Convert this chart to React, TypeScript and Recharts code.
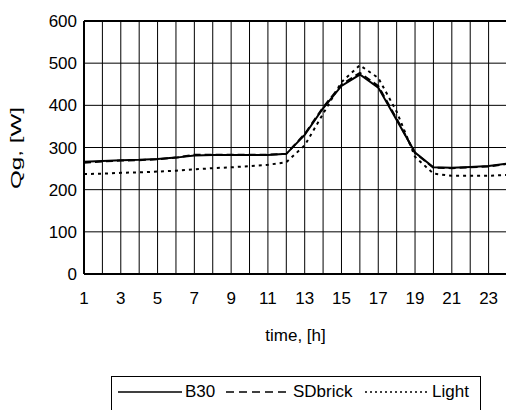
import { LineChart, Line, XAxis, YAxis, CartesianGrid, ReferenceLine } from 'recharts';

const HOURS = [1, 2, 3, 4, 5, 6, 7, 8, 9, 10, 11, 12, 13, 14, 15, 16, 17, 18, 19, 20, 21, 22, 23, 24];
const B30 = [266, 268, 270, 271, 273, 276, 281, 282, 282, 282, 282, 285, 330, 393, 446, 473, 442, 365, 288, 253, 252, 254, 256, 262];
const SDBRICK = [264, 267, 269, 270, 272, 276, 283, 283, 283, 283, 283, 285, 332, 395, 449, 477, 446, 368, 287, 252, 251, 253, 255, 261];
const LIGHT = [237, 238, 240, 241, 243, 245, 248, 251, 253, 256, 259, 265, 305, 380, 455, 495, 465, 385, 278, 238, 233, 233, 233, 235];

const X_TICKS = [1, 3, 5, 7, 9, 11, 13, 15, 17, 19, 21, 23];
const Y_TICKS = [0, 100, 200, 300, 400, 500, 600];
const H_GRID = [0, 50, 100, 150, 200, 250, 300, 350, 400, 450, 500, 550, 600];

const SERIES = [
  { key: 'b30', name: 'B30', dash: undefined as string | undefined, legendDash: undefined as string | undefined, left: 118 },
  { key: 'sdbrick', name: 'SDbrick', dash: '7 4', legendDash: '8 5', left: 226 },
  { key: 'light', name: 'Light', dash: '3 4', legendDash: '2 3', left: 365 },
];

const FONT = '"Liberation Sans", Arial, sans-serif';
const FS = 17;

// y label is drawn a bit stretched like the original export
function YLabel() {
  return (
    <text
      x={15}
      y={148}
      transform="rotate(-90 15 148)"
      textAnchor="middle"
      dominantBaseline="central"
      fontSize={15}
      fill="#000"
      textLength={82}
      lengthAdjust="spacingAndGlyphs"
    >
      Qg, [W]
    </text>
  );
}

function LegendBox() {
  return (
    <div
      style={{
        position: 'absolute',
        left: 111,
        top: 376,
        width: 368,
        height: 50,
        border: '1px solid #000',
        background: '#fff',
        fontFamily: FONT,
        fontSize: FS,
        color: '#000',
      }}
    >
      {SERIES.map((s) => (
        <div
          key={s.key}
          style={{ position: 'absolute', left: s.left - 112, top: 5, height: 20, display: 'flex', alignItems: 'center' }}
        >
          <svg width={64} height={10} style={{ marginRight: 3 }}>
            <line x1={0} y1={5} x2={64} y2={5} stroke="#000" strokeWidth={1.5} strokeDasharray={s.legendDash} />
          </svg>
          <span>{s.name}</span>
        </div>
      ))}
    </div>
  );
}

export default function App() {
  const data = HOURS.map((h, i) => ({ hour: h, b30: B30[i], sdbrick: SDBRICK[i], light: LIGHT[i] }));

  return (
    <div style={{ position: 'absolute', left: 0, top: 0, width: 506, height: 410, overflow: 'hidden', background: '#fff' }}>
      <LineChart
        width={507}
        height={410}
        data={data}
        margin={{ top: 21, right: 0, left: 0, bottom: 106 }}
        style={{ fontFamily: FONT }}
      >
        <CartesianGrid
          stroke="#000"
          strokeWidth={1}
          verticalValues={HOURS}
          horizontalValues={H_GRID}
        />
        <XAxis
          dataKey="hour"
          type="number"
          domain={[1, 24]}
          ticks={X_TICKS}
          interval={0}
          height={30}
          axisLine={{ stroke: '#000', strokeWidth: 2 }}
          tickLine={false}
          tickSize={0}
          tickMargin={18}
          tick={{ fill: '#000', fontSize: FS }}
          label={{ value: 'time, [h]', position: 'insideBottom', offset: -37, fill: '#000', fontSize: FS }}
        />
        <YAxis
          domain={[0, 600]}
          ticks={Y_TICKS}
          width={84}
          axisLine={{ stroke: '#000', strokeWidth: 2 }}
          tickLine={false}
          tickSize={0}
          tickMargin={7}
          tick={{ fill: '#000', fontSize: FS }}
          label={<YLabel />}
        />
        <ReferenceLine y={600} stroke="#000" strokeWidth={2} />
        {SERIES.map((s) => (
          <Line
            key={s.key}
            type="linear"
            dataKey={s.key}
            name={s.name}
            stroke="#000"
            strokeWidth={2}
            strokeDasharray={s.dash}
            dot={false}
            isAnimationActive={false}
          />
        ))}
      </LineChart>
      <LegendBox />
    </div>
  );
}
